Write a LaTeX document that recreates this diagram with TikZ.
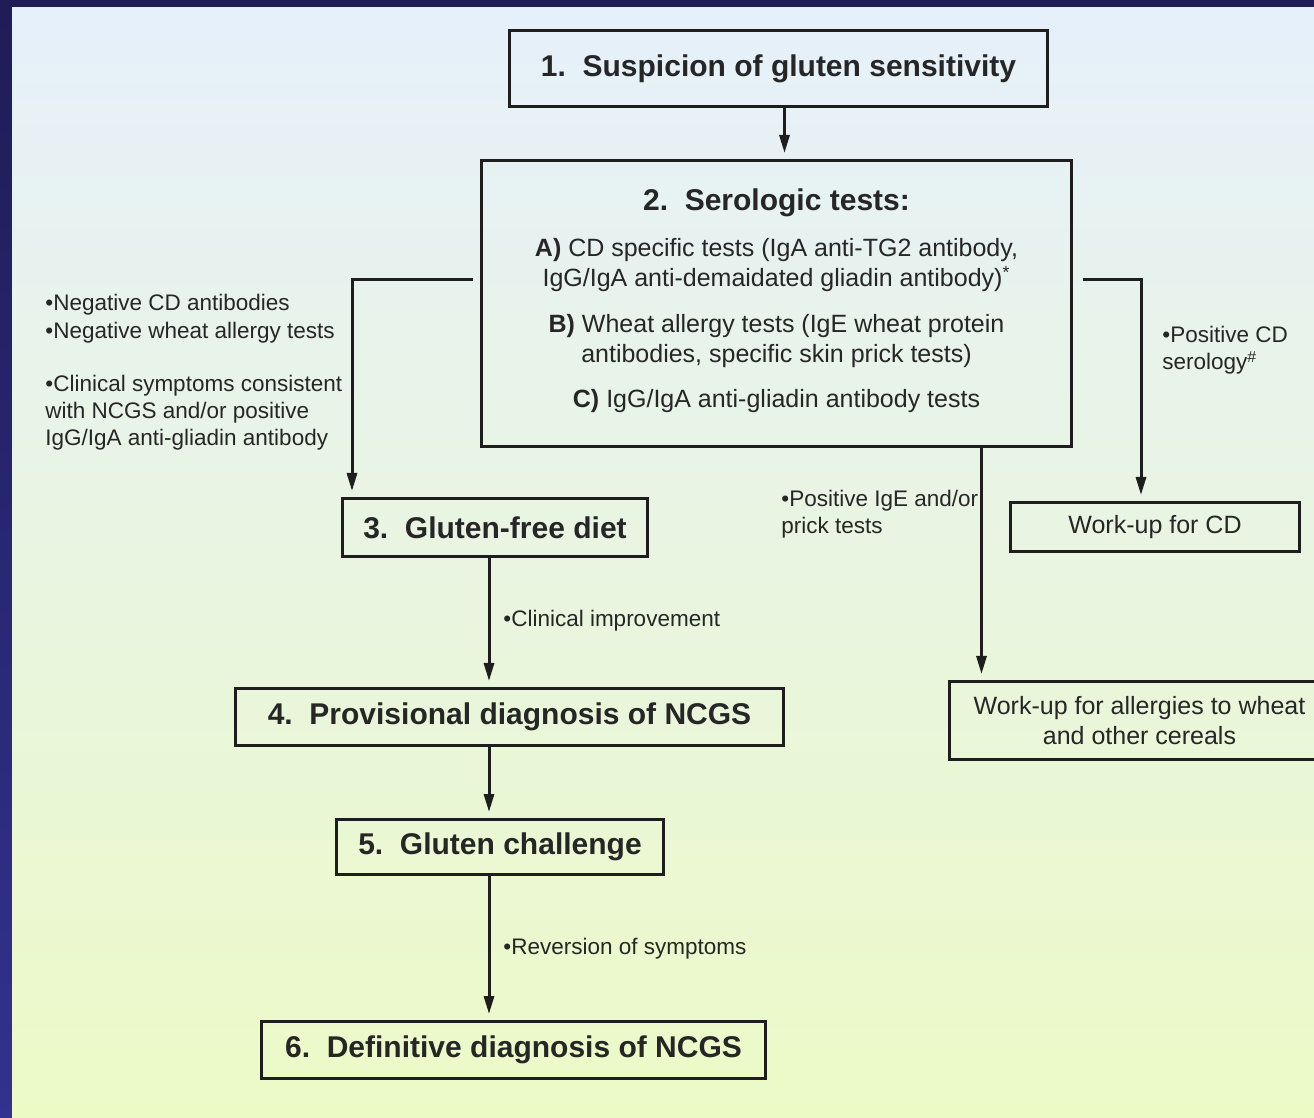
\documentclass[tikz,border=0pt]{standalone}
\usepackage{fontspec}
\setmainfont{Liberation Sans}
\usetikzlibrary{arrows.meta}
\definecolor{framea}{HTML}{1F1C57}
\definecolor{frameb}{HTML}{34318F}
\definecolor{bgtop}{HTML}{E6F0FB}
\definecolor{bgbot}{HTML}{ECFAC6}
\definecolor{ink}{HTML}{1E1E1E}
\definecolor{txt}{HTML}{262626}

\begin{document}
\begin{tikzpicture}[x=0.5pt,y=-0.5pt]
\tikzstyle{box}=[draw=ink,line width=1.5pt,anchor=north west,inner sep=0pt,align=center,text=txt,font=\bfseries\fontsize{15}{18}\selectfont]
\tikzstyle{wbox}=[box,font=\fontsize{12.5}{15}\selectfont]
\tikzstyle{note}=[anchor=base west,inner sep=0pt,align=left,text=txt,font=\fontsize{11.25}{13.5}\selectfont]
\tikzstyle{flow}=[draw=ink,line width=1.5pt,-{Triangle[length=9pt,width=5pt]},shorten >=3pt]

\useasboundingbox (0,0) rectangle (1314,1118);
% frame and background
\shade[top color=framea,bottom color=frameb] (0,0) rectangle (1314,1118);
\shade[top color=bgtop,bottom color=bgbot] (12,8) rectangle (1314,1118);

\node[box,minimum width=269pt,minimum height=38pt] (susp) at (508,29) {1.~~Suspicion of gluten sensitivity};
\node[wbox,minimum width=295pt,minimum height=143pt] (sero) at (480,159) {{\bfseries\fontsize{15}{15}\selectfont 2.~~Serologic tests:}\\[8pt]\textbf{A)} CD specific tests (IgA anti-TG2 antibody,\\IgG/IgA anti-demaidated gliadin antibody)\textsuperscript{*}\\[8pt]\textbf{B)} Wheat allergy tests (IgE wheat protein\\antibodies, specific skin prick tests)\\[7.5pt]\textbf{C)} IgG/IgA anti-gliadin antibody tests\\[-10pt]};
\node[box,minimum width=152.5pt,minimum height=29pt] (gfd) at (341,497) {3.~~Gluten-free diet};
\node[box,minimum width=274pt,minimum height=28.5pt] (prov) at (234,687) {4.~~Provisional diagnosis of NCGS};
\node[box,minimum width=163.5pt,minimum height=27.5pt] (chal) at (335,818) {5.~~Gluten challenge};
\node[box,minimum width=252pt,minimum height=28.5pt] (defi) at (260,1020) {6.~~Definitive diagnosis of NCGS};
\node[wbox,minimum width=144.5pt,minimum height=24.5pt] (wcd) at (1009,501) {Work-up for CD};
\node[wbox,minimum width=190pt,minimum height=39pt] (wall) at (948,680) {Work-up for allergies to wheat\\and other cereals};

% notes beside the arrows (base = last line)
\node[note] (neg) at (45,446) {•Negative CD antibodies\\•Negative wheat allergy tests\\[13.5pt]•Clinical symptoms consistent\\with NCGS and/or positive\\IgG/IgA anti-gliadin antibody};
\node[note] (poscd) at (1162,370) {•Positive CD\\serology\textsuperscript{\#}};
\node[note] (posige) at (781,534) {•Positive IgE and/or\\prick tests};
\node[note] (impr) at (503,626) {•Clinical improvement};
\node[note] (rev) at (503,954) {•Reversion of symptoms};

\draw[flow] ([xshift=3pt]susp.south) -- ([xshift=3pt]susp.south |- sero.north);
\draw[flow] ([shift={(-3.5pt,12pt)}]sero.west) -| ([xshift=5.5pt]gfd.north west);
\draw[flow] ([shift={(5pt,12pt)}]sero.east) -| ([xshift=-7pt]wcd.north);
\draw[flow] ([xshift=102.5pt]sero.south) -- ([xshift=102.5pt]sero.south |- wall.north);
\draw[flow] ([xshift=-3pt]gfd.south) -- ([xshift=-3pt]gfd.south |- prov.north);
\draw[flow] ([xshift=-3pt]gfd.south |- prov.south) -- ([xshift=-3pt]gfd.south |- chal.north);
\draw[flow] ([xshift=-3pt]gfd.south |- chal.south) -- ([xshift=-3pt]gfd.south |- defi.north);
\end{tikzpicture}
\end{document}
